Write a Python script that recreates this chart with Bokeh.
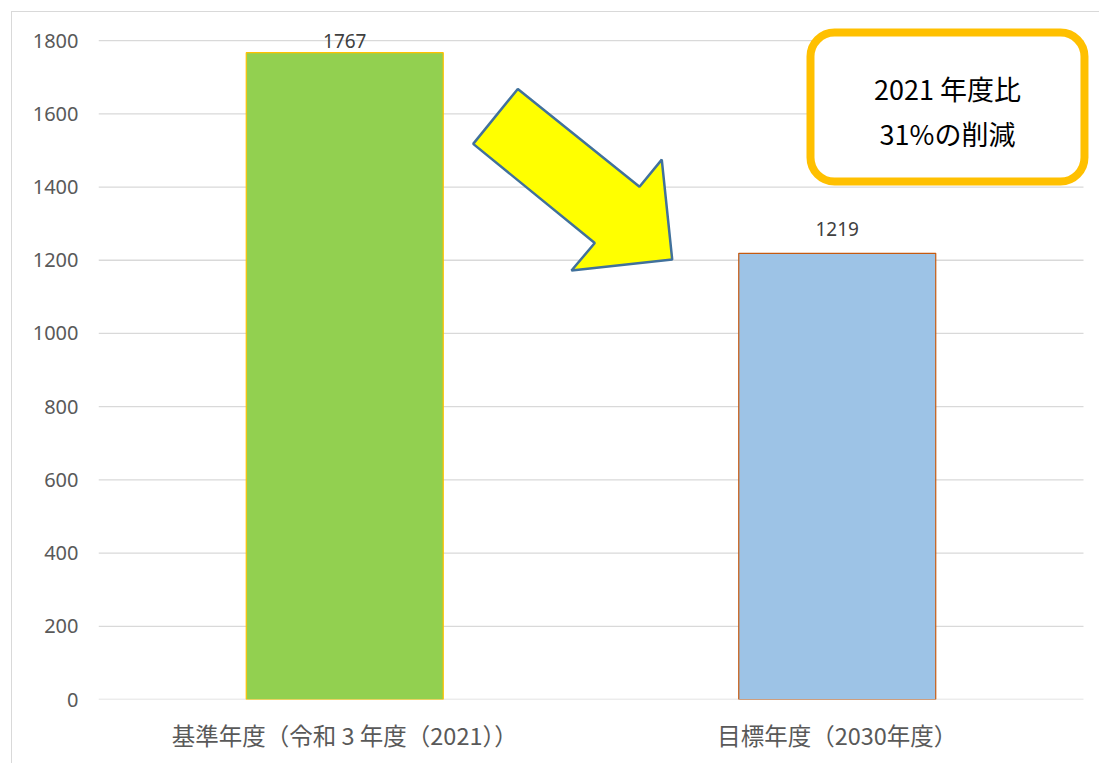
from bokeh.plotting import figure
from bokeh.models import ColumnDataSource, FixedTicker, Range1d, BoxAnnotation, Label
from bokeh.core.properties import value
from bokeh.embed import file_html
from bokeh.resources import INLINE

# ---- data ----
categories = ["基準年度（令和 3 年度（2021））", "目標年度（2030年度）"]
values = [1767, 1219]
bar_colors = ["#92D050", "#9DC3E6"]
bar_edges = ["#FFC000", "#C55A11"]
value_labels = ["1767", "1219"]
y_ticks = [0, 200, 400, 600, 800, 1000, 1200, 1400, 1600, 1800]
callout_lines = ["2021 年度比", "31%の削減"]

x_pos = [0.5, 1.5]

p = figure(width=1088, height=752, output_backend="svg", toolbar_location=None,
           x_range=Range1d(0, 2.0183), y_range=Range1d(0, 1855),
           min_border_left=86, min_border_right=8, min_border_top=8, min_border_bottom=65)
p.styles = {"margin-left": "11px", "margin-top": "11px",
            "border-left": "1px solid #d9d9d9", "border-top": "1px solid #d9d9d9"}
p.outline_line_color = None
p.background_fill_color = "white"
p.border_fill_color = "white"

# horizontal gridlines (drawn as segments so they stop at the plot area edge)
p.xgrid.grid_line_color = None
p.ygrid.grid_line_color = None
p.segment(x0=[0] * len(y_ticks), x1=[2.0] * len(y_ticks), y0=y_ticks, y1=y_ticks,
          line_color="#d9d9d9", line_width=1.3)

src = ColumnDataSource(dict(x=x_pos, top=values, color=bar_colors, edge=bar_edges,
                            label=value_labels, off=[-5, -17]))
p.vbar(x="x", top="top", width=0.4, bottom=0, source=src, fill_color="color",
       line_color="edge", line_width=1.2)

p.text(x="x", y="top", text="label", source=src, text_align="center",
       text_baseline="bottom", y_offset="off", text_font=value("Noto Sans"),
       text_font_size="19px", text_color="#404040")

# axes
p.yaxis.ticker = FixedTicker(ticks=y_ticks)
p.yaxis.axis_line_color = None
p.yaxis.major_tick_line_color = None
p.yaxis.minor_tick_line_color = None
p.yaxis.major_tick_out = 0
p.yaxis.major_label_standoff = 20
p.yaxis.major_label_text_font = "Noto Sans"
p.yaxis.major_label_text_font_size = "20px"
p.yaxis.major_label_text_color = "#595959"

p.xaxis.ticker = FixedTicker(ticks=x_pos)
p.xaxis.major_label_overrides = {x: c for x, c in zip(x_pos, categories)}
p.xaxis.axis_line_color = None
p.xaxis.major_tick_line_color = None
p.xaxis.minor_tick_line_color = None
p.xaxis.major_tick_out = 0
p.xaxis.major_label_standoff = 18
p.xaxis.major_label_text_font = "Noto Sans CJK JP"
p.xaxis.major_label_text_font_size = "23.5px"
p.xaxis.major_label_text_color = "#595959"

# arrow shape (decoration)
arrow_x = [0.8514, 1.0985, 1.1437, 1.1649, 0.9604, 1.0077, 0.7608]
arrow_y = [1668, 1401, 1475, 1202, 1172, 1247, 1518]
p.patch(arrow_x, arrow_y, fill_color="#FFFF00", line_color="#41719C", line_width=2.5)

# callout box
box = BoxAnnotation(left=1.4457, right=2.002, top=1822, bottom=1415,
                    fill_color="white", fill_alpha=1.0, line_color="#FFC000",
                    line_width=8, border_radius=24, line_alpha=1.0)
p.add_layout(box)
for txt, yy in zip(callout_lines, [1670, 1546]):
    p.add_layout(Label(x=1.7239, y=yy, text=txt, text_align="center",
                       text_baseline="middle", text_font="Noto Sans CJK JP",
                       text_font_size="27px", text_color="#000000"))

open("out.html", "w").write(file_html(p, INLINE))
